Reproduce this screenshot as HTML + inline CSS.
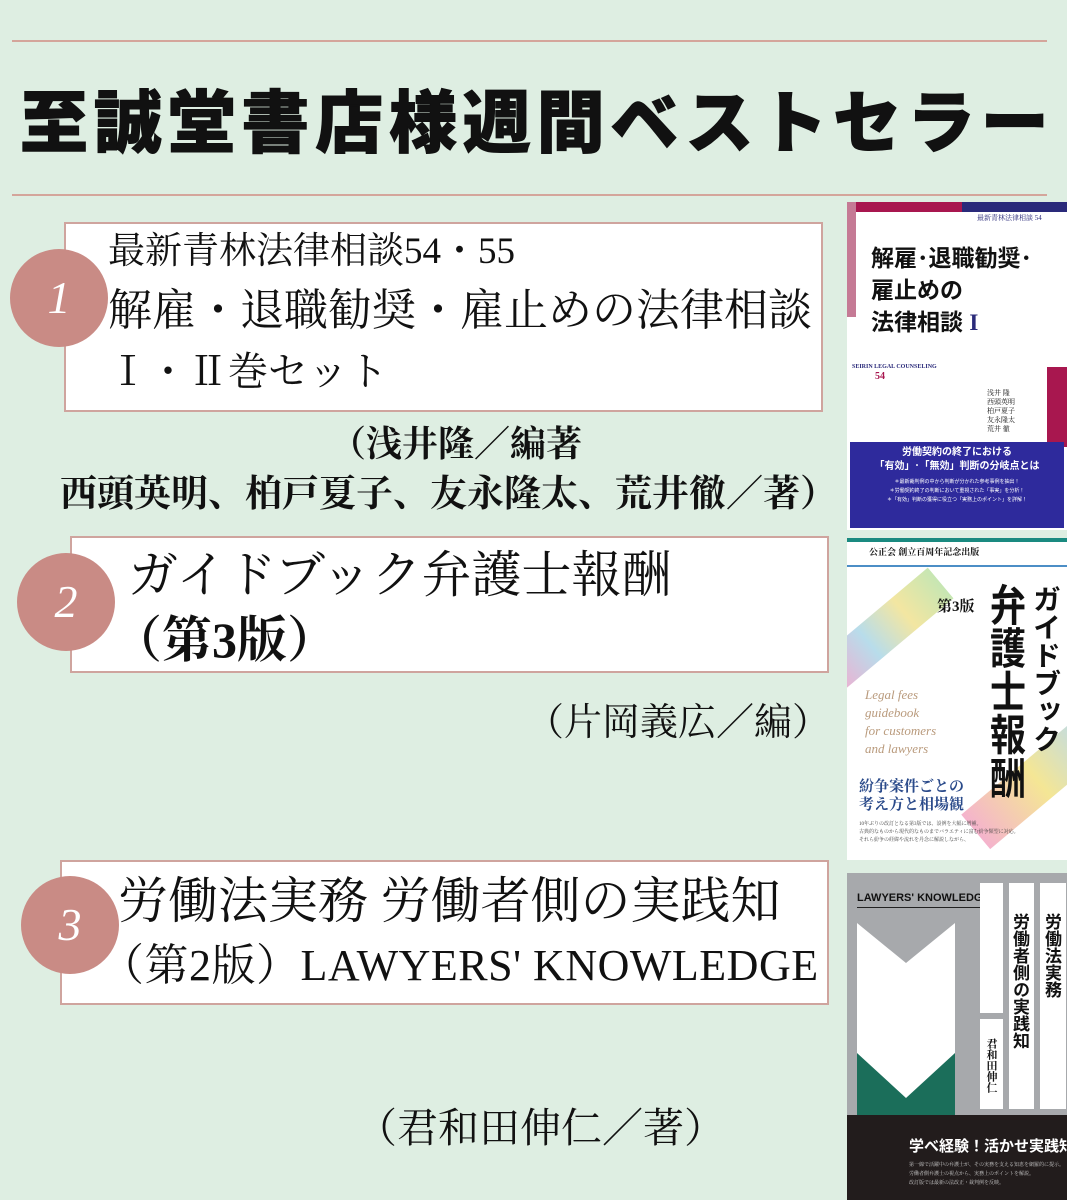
<!DOCTYPE html>
<html><head><meta charset="utf-8"><style>
*{margin:0;padding:0;box-sizing:border-box}
body{width:1067px;height:1200px;background:#deeee2;position:relative;overflow:hidden;font-family:"Liberation Serif","Noto Serif CJK SC",serif;color:#111}
.ab{position:absolute}
.hr{position:absolute;left:12px;width:1035px;height:2px;background:#d4a59b}
.title{left:20px;top:84px;width:1047px;font-family:"Liberation Sans","Noto Sans CJK JP",sans-serif;font-weight:900;font-size:68px;letter-spacing:5.8px;white-space:nowrap;line-height:80px;-webkit-text-stroke:1px #111}
.box{position:absolute;background:#fff;border:2px solid #cfa49e}
.circ{position:absolute;width:98px;height:98px;border-radius:50%;background:#c98b85;color:#fff;font-style:italic;font-size:46px;text-align:center;line-height:98px;font-family:"Liberation Serif",serif}
.t{position:absolute;white-space:nowrap;line-height:1}
</style></head><body>
<div class="hr" style="top:40px"></div>
<div class="ab title">至誠堂書店様週間ベストセラー</div>
<div class="hr" style="top:194px"></div>

<div class="box" style="left:64px;top:222px;width:759px;height:190px"></div>
<div class="circ" style="left:10px;top:249px">1</div>
<div class="t" style="left:108px;top:233px;font-size:37px">最新青林法律相談54・55</div>
<div class="t" style="left:108px;top:289px;font-size:44px">解雇・退職勧奨・雇止めの法律相談</div>
<div class="t" style="left:108px;top:352px;font-size:40px">Ⅰ・Ⅱ巻セット</div>
<div class="t" style="left:330px;top:426px;font-size:36px;font-weight:bold">（浅井隆／編著</div>
<div class="t" style="left:60px;top:476px;font-size:37px;font-weight:bold">西頭英明、柏戸夏子、友永隆太、荒井徹／著）</div>

<div class="box" style="left:70px;top:536px;width:759px;height:137px"></div>
<div class="circ" style="left:17px;top:553px">2</div>
<div class="t" style="left:128px;top:550px;font-size:50px">ガイドブック弁護士報酬</div>
<div class="t" style="left:112px;top:615px;font-size:50px;font-weight:bold">（第3版）</div>
<div class="t" style="left:526px;top:704px;font-size:38px">（片岡義広／編）</div>

<div class="box" style="left:60px;top:860px;width:769px;height:145px"></div>
<div class="circ" style="left:21px;top:876px">3</div>
<div class="t" style="left:118px;top:876px;font-size:50px">労働法実務 労働者側の実践知</div>
<div class="t" style="left:100px;top:944px;font-size:44px;letter-spacing:0.5px">（第2版）LAWYERS' KNOWLEDGE</div>
<div class="t" style="left:356px;top:1108px;font-size:41px">（君和田伸仁／著）</div>

<!-- cover 1 -->
<div class="ab" style="left:847px;top:202px;width:220px;height:328px;background:#fff;overflow:hidden">
 <div class="ab" style="left:0;top:0;width:220px;height:10px;background:#2a2a7a"></div>
 <div class="ab" style="left:0;top:0;width:115px;height:10px;background:#a8174f"></div>
 <div class="ab" style="left:0;top:0;width:9px;height:115px;background:#c57a95"></div>
 <div class="ab" style="left:200px;top:165px;width:20px;height:80px;background:#a8174f"></div>
 <div class="t" style="left:130px;top:13px;font-size:7px;color:#2a2a7a">最新青林法律相談 54</div>
 <div class="t" style="left:24px;top:40px;font-size:23px;font-weight:bold;font-family:'Liberation Sans','Noto Sans CJK JP',sans-serif;line-height:32px;white-space:normal;width:196px">解雇･退職勧奨･<br>雇止めの<br>法律相談 <span style="color:#2a2a7a;font-family:'Liberation Serif',serif">I</span></div>
 <div class="t" style="left:5px;top:162px;font-size:6px;color:#2a2a7a;font-weight:bold">SEIRIN LEGAL COUNSELING</div>
 <div class="t" style="left:28px;top:170px;font-size:10px;color:#a8174f;font-weight:bold">54</div>
 <div class="t" style="left:140px;top:187px;font-size:7px;line-height:9px;white-space:normal;width:50px">浅井 隆<br>西頭英明<br>柏戸夏子<br>友永隆太<br>荒井 徹</div>
 <div class="ab" style="left:3px;top:240px;width:214px;height:86px;background:#2e2a9c;color:#fff;text-align:center;font-family:'Liberation Sans','Noto Sans CJK JP',sans-serif">
  <div style="font-size:10px;font-weight:bold;margin-top:4px;line-height:14px">労働契約の終了における<br>「有効」･「無効」判断の分岐点とは</div>
  <div style="font-size:5px;line-height:9px;margin-top:4px">＊最新裁判例の中から判断が分かれた参考事例を抽出！<br>＊労働契約終了の判断において重視された「事実」を分析！<br>＊「有効」判断の獲得に役立つ「実務上のポイント」を詳解！</div>
 </div>
</div>
<!-- cover 2 -->
<div class="ab" style="left:847px;top:538px;width:220px;height:322px;background:#fff;overflow:hidden">
 <div class="ab" style="left:0;top:0;width:220px;height:4px;background:#1a8a80"></div>
 <div class="ab" style="left:0;top:27px;width:220px;height:2px;background:#4c8ec6"></div>
 <div class="t" style="left:22px;top:10px;font-size:9px;font-weight:bold">公正会 創立百周年記念出版</div>
 <div class="ab" style="left:-30px;top:70px;width:140px;height:40px;background:linear-gradient(90deg,#e4a0c8,#a6d4e6,#f0e08a,#b8e0a0);transform:rotate(-40deg);opacity:.8"></div>
 <div class="ab" style="left:110px;top:220px;width:160px;height:45px;background:linear-gradient(90deg,#f2a0c0,#f2e07a,#a4d0f0);transform:rotate(-40deg);opacity:.8"></div>
 <div class="t" style="left:90px;top:62px;font-size:15px;font-weight:bold">第3版</div>
 <div class="t" style="left:138px;top:45px;font-size:36px;line-height:40px;writing-mode:vertical-rl;font-weight:bold;font-family:'Liberation Sans','Noto Sans CJK JP',sans-serif;transform:scaleY(1.2);transform-origin:top">弁護士報酬</div>
 <div class="t" style="left:182px;top:47px;font-size:28px;line-height:32px;writing-mode:vertical-rl;font-weight:bold;font-family:'Liberation Sans','Noto Sans CJK JP',sans-serif">ガイドブック</div>
 <div class="t" style="left:18px;top:148px;font-size:13px;line-height:18px;color:#b99a7c;font-style:italic">Legal fees<br>guidebook<br>for customers<br>and lawyers</div>
 <div class="t" style="left:12px;top:240px;font-size:15px;line-height:18px;color:#2a4a8a;font-weight:bold">紛争案件ごとの<br>考え方と相場観</div>
 <div class="t" style="left:12px;top:283px;font-size:5px;line-height:8px;color:#444">10年ぶりの改訂となる第3版では、設例を大幅に増補。<br>古典的なものから現代的なものまでバラエティに富む紛争類型に対応。<br>それら紛争の経緯や流れを丹念に解説しながら、</div>
</div>
<!-- cover 3 -->
<div class="ab" style="left:847px;top:873px;width:220px;height:327px;background:#a7a9ac;overflow:hidden">
 <div class="t" style="left:10px;top:20px;font-size:11px;font-weight:bold;font-family:'Liberation Sans',sans-serif">LAWYERS' KNOWLEDGE</div>
 <div class="ab" style="left:10px;top:34px;width:142px;height:1px;background:#222"></div>
 <svg class="ab" style="left:10px;top:50px" width="98" height="200"><polygon points="0,0 49,40 98,0 98,145 49,190 0,145" fill="#fff"/><polygon points="0,130 49,175 98,130 98,200 0,200" fill="#1b6e5a"/></svg>
 <div class="ab" style="left:133px;top:10px;width:23px;height:130px;background:#fff"></div>
 <div class="ab" style="left:133px;top:146px;width:23px;height:90px;background:#fff"></div>
 <div class="ab" style="left:162px;top:10px;width:25px;height:226px;background:#fff"></div>
 <div class="ab" style="left:193px;top:10px;width:26px;height:226px;background:#fff"></div>
 <div class="t" style="left:164px;top:40px;font-size:17px;writing-mode:vertical-rl;font-weight:bold;font-family:'Liberation Sans','Noto Sans CJK JP',sans-serif">労働者側の実践知</div>
 <div class="t" style="left:196px;top:40px;font-size:17px;writing-mode:vertical-rl;font-weight:bold;font-family:'Liberation Sans','Noto Sans CJK JP',sans-serif">労働法実務</div>
 <div class="t" style="left:138px;top:165px;font-size:11px;writing-mode:vertical-rl;font-weight:bold">君和田伸仁</div>
 <div class="ab" style="left:0;top:242px;width:220px;height:85px;background:#221c1c;color:#fff">
  <div class="t" style="left:62px;top:24px;font-size:15px;font-weight:bold;font-family:'Liberation Sans','Noto Sans CJK JP',sans-serif">学べ経験！活かせ実践知！</div>
  <div class="t" style="left:62px;top:46px;font-size:5px;line-height:9px;color:#ccc">第一線で活躍中の弁護士が、その実務を支える知恵を網羅的に提示。<br>労働者側弁護士の視点から、実務上のポイントを解説。<br>改訂版では最新の法改正・裁判例を反映。</div>
 </div>
</div>
</body></html>
